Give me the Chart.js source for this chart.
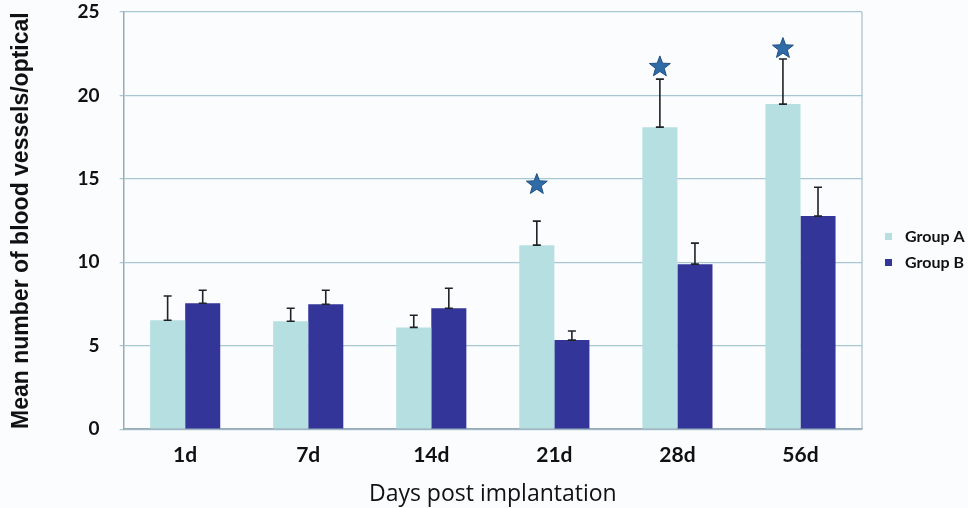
<!DOCTYPE html>
<html>
<head>
<meta charset="utf-8">
<script src="https://cdn.jsdelivr.net/npm/chart.js@4"></script>
<style>
  html, body { margin: 0; padding: 0; background: #fbfcfe; }
  #wrap { width: 968px; height: 508px; position: relative; }
</style>
</head>
<body>
<div id="wrap"><canvas id="my-chart"></canvas></div>
<script>
const days = ['1d', '7d', '14d', '21d', '28d', '56d'];
const groupA = [6.53, 6.47, 6.1, 11.03, 18.1, 19.48];
const groupB = [7.55, 7.49, 7.25, 5.34, 9.89, 12.77];
const errA = [1.45, 0.78, 0.73, 1.44, 2.88, 2.7];
const errB = [0.78, 0.84, 1.2, 0.54, 1.26, 1.73];
// significance stars above Group A (value on the y axis), null = none
const starsA = [null, null, null, 14.75, 21.8, 22.9];

// error bars: stem from bar top upward, cap at both ends
const errorBars = {
    id: 'errorBars',
    afterDatasetsDraw(chart) {
        const ctx = chart.ctx;
        const y = chart.scales.y;
        const errs = [errA, errB];
        ctx.save();
        ctx.strokeStyle = '#1f2326';
        ctx.lineWidth = 1.6;
        chart.data.datasets.forEach((ds, i) => {
            chart.getDatasetMeta(i).data.forEach((bar, j) => {
                const y0 = y.getPixelForValue(ds.data[j]);
                const y1 = y.getPixelForValue(ds.data[j] + errs[i][j]);
                ctx.beginPath();
                ctx.moveTo(bar.x, y0); ctx.lineTo(bar.x, y1);
                ctx.moveTo(bar.x - 4, y0); ctx.lineTo(bar.x + 4, y0);
                ctx.moveTo(bar.x - 4, y1); ctx.lineTo(bar.x + 4, y1);
                ctx.stroke();
            });
        });
        ctx.restore();
    }
};

// filled 5 point stars
const stars = {
    id: 'stars',
    afterDatasetsDraw(chart) {
        const ctx = chart.ctx;
        const y = chart.scales.y;
        const meta = chart.getDatasetMeta(0);
        ctx.save();
        ctx.fillStyle = '#2f6ba6';
        ctx.strokeStyle = '#1f4f82';
        ctx.lineWidth = 1;
        starsA.forEach((v, j) => {
            if (v === null) return;
            const cx = meta.data[j].x;
            const cy = y.getPixelForValue(v);
            const ro = 11, ri = 4.6;
            ctx.beginPath();
            for (let k = 0; k < 10; k++) {
                const r = k % 2 ? ri : ro;
                const a = -Math.PI / 2 + k * Math.PI / 5;
                const px = cx + r * Math.cos(a), py = cy + 1.5 + r * Math.sin(a);
                k ? ctx.lineTo(px, py) : ctx.moveTo(px, py);
            }
            ctx.closePath();
            ctx.fill();
            ctx.stroke();
        });
        ctx.restore();
    }
};

// right edge of the plot frame + small legend to the right of it
const frame = {
    id: 'frame',
    afterDraw(chart) {
        const a = chart.chartArea;
        const ctx = chart.ctx;
        ctx.save();
        ctx.strokeStyle = '#a8bcc8';
        ctx.lineWidth = 1.2;
        ctx.beginPath();
        ctx.moveTo(a.right, a.top); ctx.lineTo(a.right, a.bottom);
        ctx.stroke();

        ctx.font = 'bold 16px Lato';
        ctx.textBaseline = 'middle';
        chart.data.datasets.forEach((ds, i) => {
            const ly = chart.height / 2 - 17 + i * 26;
            ctx.fillStyle = ds.backgroundColor;
            ctx.fillRect(a.right + 23, ly - 4, 7, 7);
            ctx.fillStyle = '#111';
            ctx.fillText(ds.label, a.right + 43, ly);
        });
        ctx.restore();
    }
};

const data = {
    labels: days,
    datasets: [
        { label: 'Group A', data: groupA, backgroundColor: '#b6dfe2' },
        { label: 'Group B', data: groupB, backgroundColor: '#333598' }
    ]
};

const config = {
    type: 'bar',
    data,
    options: {
        responsive: true,
        maintainAspectRatio: false,
        animation: false,
        layout: { padding: { top: 0, right: 106, bottom: 0, left: 8 } },
        datasets: { bar: { barPercentage: 1, categoryPercentage: 0.57 } },
        plugins: {
            legend: { display: false },
            tooltip: { enabled: false }
        },
        scales: {
            x: {
                grid: { display: false, drawTicks: false },
                border: { color: '#9aaab6', width: 1.5 },
                ticks: { color: '#111', padding: 13, font: { family: 'Lato', size: 21, weight: 'bold' } },
                title: {
                    display: true, text: 'Days post implantation', color: '#111',
                    font: { family: 'Open Sans', size: 23 }, padding: { top: 0, bottom: 0 }
                }
            },
            y: {
                min: 0, max: 25,
                afterFit(scale) {
                    scale.paddingTop = 12;
                    scale.paddingBottom = 12;
                },
                ticks: { stepSize: 5, color: '#111', padding: 20, font: { family: 'Lato', size: 19, weight: 'bold' } },
                grid: { color: '#a9c7d2', lineWidth: 1.2, tickLength: 4 },
                border: { color: '#9aaab6', width: 1.5 },
                title: {
                    display: true, text: 'Mean number of blood vessels/optical', color: '#111',
                    font: { family: 'Liberation Sans', size: 23, weight: 'bold' }, padding: { top: 0, bottom: 22 }
                }
            }
        }
    },
    plugins: [frame, errorBars, stars]
};

const myChart = new Chart(document.getElementById('my-chart'), config);
</script>
</body>
</html>
